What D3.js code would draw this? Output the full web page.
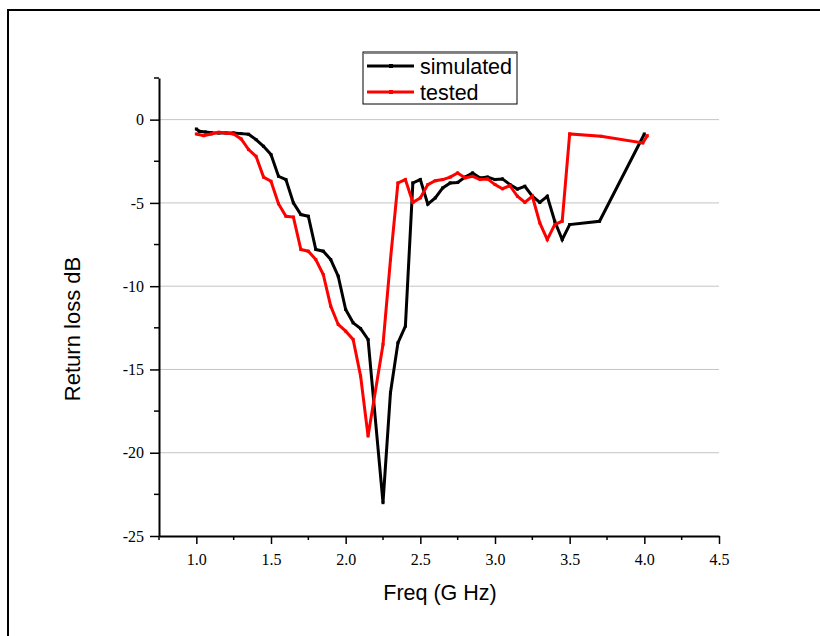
<!DOCTYPE html>
<html>
<head>
<meta charset="utf-8">
<script src="https://cdn.jsdelivr.net/npm/d3@7"></script>
<style>
  html, body { margin: 0; padding: 0; background: #fff; }
  svg { display: block; }
</style>
</head>
<body>
<svg id="chart" width="820" height="636"></svg>
<script>
// Return loss versus frequency: simulated and measured
const simFreq = [1.00,1.02,1.06,1.10,1.15,1.20,1.25,1.30,1.35,1.40,1.45,1.50,1.55,1.60,1.65,1.70,1.75,1.80,1.85,1.90,1.95,2.00,2.05,2.10,2.15,2.25,2.30,2.35,2.40,2.45,2.50,2.55,2.60,2.65,2.70,2.75,2.80,2.85,2.90,2.95,3.00,3.05,3.10,3.15,3.20,3.25,3.30,3.35,3.40,3.45,3.50,3.70,4.00];
const simLoss = [-0.56,-0.70,-0.74,-0.78,-0.80,-0.80,-0.80,-0.84,-0.88,-1.20,-1.60,-2.10,-3.40,-3.60,-5.00,-5.70,-5.80,-7.80,-7.90,-8.40,-9.40,-11.40,-12.20,-12.55,-13.20,-23.00,-16.40,-13.40,-12.40,-3.80,-3.60,-5.07,-4.70,-4.10,-3.80,-3.77,-3.45,-3.20,-3.50,-3.45,-3.60,-3.56,-3.90,-4.17,-4.00,-4.60,-4.97,-4.60,-6.10,-7.20,-6.30,-6.10,-0.86];

const testFreq = [1.00,1.05,1.10,1.15,1.20,1.25,1.30,1.35,1.40,1.45,1.50,1.55,1.60,1.65,1.70,1.75,1.80,1.85,1.90,1.95,2.00,2.05,2.10,2.15,2.25,2.30,2.35,2.40,2.45,2.50,2.55,2.60,2.65,2.70,2.75,2.80,2.85,2.90,2.95,3.00,3.05,3.10,3.15,3.20,3.25,3.30,3.35,3.40,3.45,3.50,3.71,3.99,4.02];
const testLoss = [-0.86,-0.96,-0.86,-0.76,-0.80,-0.86,-1.16,-1.80,-2.20,-3.45,-3.70,-5.05,-5.80,-5.85,-7.80,-7.90,-8.40,-9.30,-11.20,-12.30,-12.70,-13.20,-15.40,-19.00,-13.50,-8.40,-3.80,-3.60,-4.97,-4.70,-3.90,-3.67,-3.60,-3.45,-3.20,-3.50,-3.40,-3.60,-3.56,-3.90,-4.15,-3.97,-4.60,-4.97,-4.60,-6.20,-7.20,-6.30,-6.10,-0.86,-1.00,-1.40,-0.96];

const xMajor = [1.0,1.5,2.0,2.5,3.0,3.5,4.0,4.5];
const xMinor = [0.75,1.25,1.75,2.25,2.75,3.25,3.75,4.25];
const yMajor = [0,-5,-10,-15,-20,-25];
const yMinor = [2.5,-2.5,-7.5,-12.5,-17.5,-22.5];
const seriesNames = ["simulated","tested"];
const seriesColors = ["#000000","#ff0000"];

const svg = d3.select("#chart");

// outer frame
svg.append("rect")
  .attr("x", 8).attr("y", 10).attr("width", 840).attr("height", 700)
  .attr("fill", "none").attr("stroke", "#000").attr("stroke-width", 2);

const x = d3.scaleLinear().domain([0.75, 4.5]).range([159, 719]);
const y = d3.scaleLinear().domain([-25, 2.5]).range([536, 78]);

// horizontal grid
svg.append("g").selectAll("line")
  .data(yMajor.filter(v => v > -25))
  .join("line")
  .attr("x1", x(0.75)).attr("x2", x(4.5))
  .attr("y1", d => y(d)).attr("y2", d => y(d))
  .attr("stroke", "#c4c4c4").attr("stroke-width", 1);

const serif = "'Liberation Serif','Times New Roman',serif";
const sans = "'Liberation Sans',Arial,sans-serif";

// x axis
const xAxis = svg.append("g").attr("transform", `translate(0,${y(-25)})`)
  .call(d3.axisBottom(x).tickValues(xMajor).tickFormat(d3.format(".1f")).tickSize(8).tickSizeOuter(0));
xAxis.selectAll("text").attr("font-family", serif).attr("font-size", 16).attr("dy", "1.15em").attr("fill", "#000");
xAxis.append("g").selectAll("line").data(xMinor).join("line")
  .attr("x1", d => x(d)).attr("x2", d => x(d)).attr("y1", 0).attr("y2", 4)
  .attr("stroke", "#000").attr("stroke-width", 1.5);

// y axis (plain hyphen for negative labels)
const yAxis = svg.append("g").attr("transform", `translate(${x(0.75)},0)`)
  .call(d3.axisLeft(y).tickValues(yMajor).tickFormat(d => String(d)).tickSize(9).tickSizeOuter(0));
yAxis.selectAll("text").attr("font-family", serif).attr("font-size", 16).attr("fill", "#000").attr("x", -15);
yAxis.append("g").selectAll("line").data(yMinor).join("line")
  .attr("x1", -5).attr("x2", 0).attr("y1", d => y(d)).attr("y2", d => y(d))
  .attr("stroke", "#000").attr("stroke-width", 1.5);
[xAxis, yAxis].forEach(a => {
  a.select(".domain").attr("stroke-width", 2);
  a.selectAll(".tick line").attr("stroke-width", 1.5);
});

// axis titles
svg.append("text").attr("x", 440).attr("y", 600).attr("text-anchor", "middle")
  .attr("font-family", sans).attr("font-size", 21.5).text("Freq (G Hz)");
svg.append("text").attr("transform", `translate(80,${(78 + 536) / 2 + 22}) rotate(-90)`)
  .attr("text-anchor", "middle").attr("font-family", sans).attr("font-size", 22).text("Return loss dB");

// curves
const line = d3.line().x(d => x(d[0])).y(d => y(d[1]));
const series = [
  d3.zip(simFreq, simLoss),
  d3.zip(testFreq, testLoss)
];
series.forEach((pts, i) => {
  svg.append("path").datum(pts)
    .attr("d", line).attr("fill", "none")
    .attr("stroke", seriesColors[i]).attr("stroke-width", 3)
    .attr("stroke-linejoin", "miter").attr("stroke-miterlimit", 3);
  svg.append("g").selectAll("rect").data(pts).join("rect")
    .attr("x", d => x(d[0]) - 1.5).attr("y", d => y(d[1]) - 1.5)
    .attr("width", 3).attr("height", 3).attr("fill", seriesColors[i]);
});

// legend
const lg = svg.append("g").attr("transform", "translate(363,52)");
lg.append("rect").attr("x", 0).attr("y", 0).attr("width", 154).attr("height", 52)
  .attr("fill", "#fff").attr("stroke", "#000").attr("stroke-width", 1);
lg.append("line").attr("x1", 1).attr("x2", 153).attr("y1", 1.5).attr("y2", 1.5)
  .attr("stroke", "#888").attr("stroke-width", 1);
seriesNames.forEach((name, i) => {
  const yy = 14 + i * 26;
  lg.append("line").attr("x1", 4).attr("x2", 51).attr("y1", yy).attr("y2", yy)
    .attr("stroke", seriesColors[i]).attr("stroke-width", 3);
  lg.append("rect").attr("x", 26).attr("y", yy - 2).attr("width", 4).attr("height", 4)
    .attr("fill", seriesColors[i]);
  lg.append("text").attr("x", 57).attr("y", yy + 7.5).attr("font-family", sans)
    .attr("font-size", 21.5).text(name);
});
</script>
</body>
</html>
